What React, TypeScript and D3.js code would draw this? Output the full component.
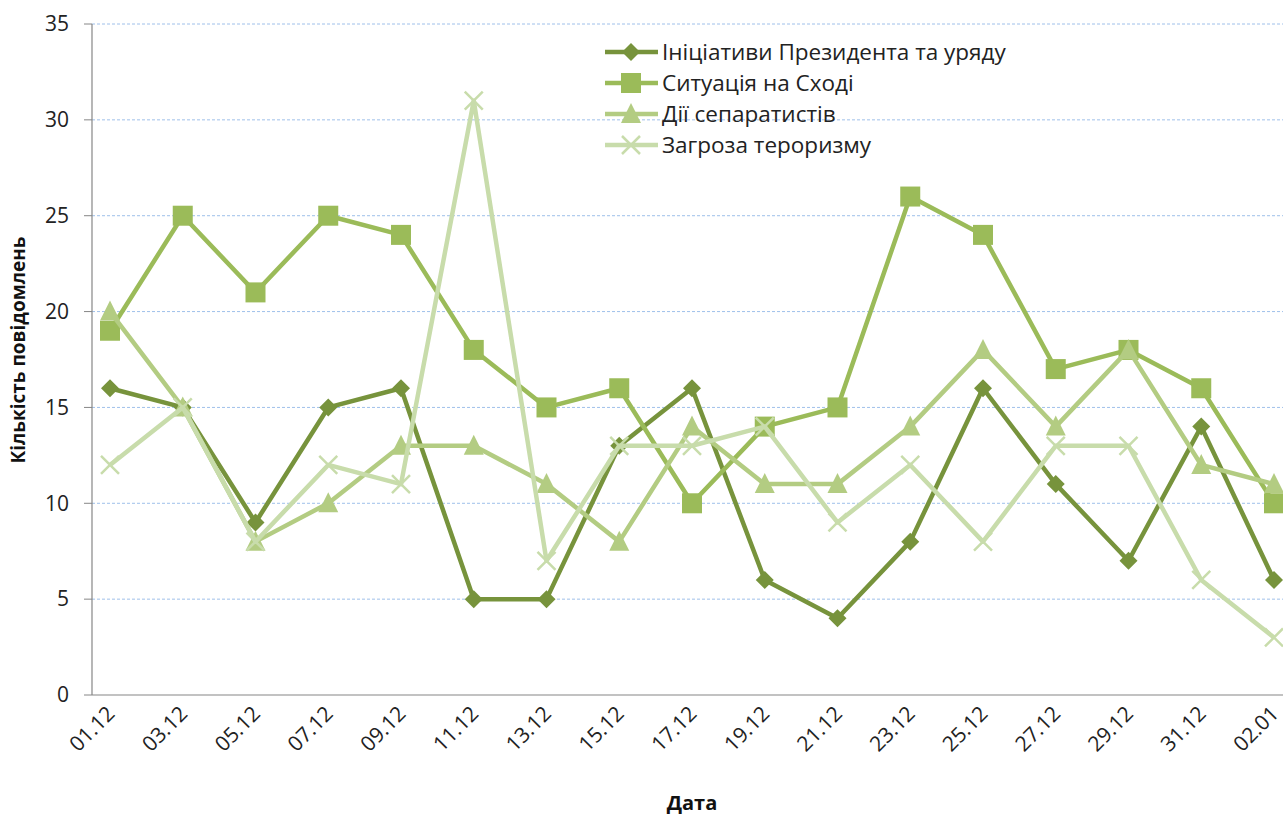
import React from "react";
import * as d3 from "d3";

const categories = ["01.12","03.12","05.12","07.12","09.12","11.12","13.12","15.12","17.12","19.12","21.12","23.12","25.12","27.12","29.12","31.12","02.01"];
const initiatives = [16,15,9,15,16,5,5,13,16,6,4,8,16,11,7,14,6];
const east = [19,25,21,25,24,18,15,16,10,14,15,26,24,17,18,16,10];
const separatists = [20,15,8,10,13,13,11,8,14,11,11,14,18,14,18,12,11];
const terrorism = [12,15,8,12,11,31,7,13,13,14,9,12,8,13,13,6,3];
const yTicks = [0,5,10,15,20,25,30,35];

const series = [
  { name: "Ініціативи Президента та уряду", values: initiatives, color: "#77933C", marker: "diamond" },
  { name: "Ситуація на Сході", values: east, color: "#9BBB59", marker: "square" },
  { name: "Дії сепаратистів", values: separatists, color: "#B3CC82", marker: "triangle" },
  { name: "Загроза тероризму", values: terrorism, color: "#C8DCAB", marker: "x" },
];

const FONT = "'Open Sans', 'Liberation Sans', sans-serif";

function Marker({ type, x, y, color }: { type: string; x: number; y: number; color: string }) {
  if (type === "diamond") {
    const s = 9;
    return <path d={`M${x},${y - s}L${x + s},${y}L${x},${y + s}L${x - s},${y}Z`} fill={color} />;
  }
  if (type === "square") {
    const s = 10;
    return <rect x={x - s} y={y - s} width={2 * s} height={2 * s} fill={color} />;
  }
  if (type === "triangle") {
    const s = 10;
    return <path d={`M${x},${y - s - 1}L${x + s},${y + s - 1}L${x - s},${y + s - 1}Z`} fill={color} />;
  }
  const s = 9;
  return (
    <path d={`M${x - s},${y - s}L${x + s},${y + s}M${x - s},${y + s}L${x + s},${y - s}`} stroke={color} strokeWidth={2.5} fill="none" />
  );
}

export default function App() {
  const W = 1283, H = 818;
  const axisX = 92;
  const x = d3.scalePoint<string>().domain(categories).range([110, 1274]);
  const y = d3.scaleLinear().domain([0, 35]).range([695, 24]);
  const line = d3.line<number>().x((_, i) => x(categories[i])!).y((d) => y(d));

  return (
    <svg width={W} height={H} style={{ position: "absolute", left: 0, top: 0, background: "#fff" }} fontFamily={FONT}>
      {yTicks.map((t) => (
        <g key={t}>
          {t > 0 && (
            <line x1={axisX} x2={W} y1={y(t)} y2={y(t)} stroke="#9FC0EA" strokeWidth={1} strokeDasharray="3,2" />
          )}
          <line x1={axisX - 8} x2={axisX} y1={y(t)} y2={y(t)} stroke="#868686" strokeWidth={1} />
          <text x={69} y={y(t)} dy="0.35em" textAnchor="end" fontSize={21} fill="#222">{t}</text>
        </g>
      ))}
      <line x1={axisX} x2={axisX} y1={y(35)} y2={y(0)} stroke="#868686" strokeWidth={1.2} />
      <line x1={axisX} x2={W} y1={y(0)} y2={y(0)} stroke="#868686" strokeWidth={1.2} />

      {categories.map((c) => (
        <text key={c} transform={`translate(${x(c)! + 6},${715}) rotate(-45)`} textAnchor="end" fontSize={21} fill="#222">{c}</text>
      ))}

      {series.map((s) => (
        <g key={s.name}>
          <path d={line(s.values)!} fill="none" stroke={s.color} strokeWidth={4.5} strokeLinejoin="round" />
          {s.values.map((v, i) => (
            <Marker key={i} type={s.marker} x={x(categories[i])!} y={y(v)} color={s.color} />
          ))}
        </g>
      ))}

      {series.map((s, i) => {
        const ly = 52 + i * 31;
        return (
          <g key={s.name}>
            <line x1={605} x2={658} y1={ly} y2={ly} stroke={s.color} strokeWidth={4.5} />
            <Marker type={s.marker} x={631} y={ly} color={s.color} />
            <text x={662} y={ly} dy="0.35em" fontSize={22.5} fill="#222">{s.name}</text>
          </g>
        );
      })}

      <text transform={`translate(25,350) rotate(-90)`} textAnchor="middle" fontSize={19} fontWeight="bold" fill="#111">Кількість повідомлень</text>
      <text x={692} y={810} textAnchor="middle" fontSize={20} fontWeight="bold" fill="#111">Дата</text>
    </svg>
  );
}
